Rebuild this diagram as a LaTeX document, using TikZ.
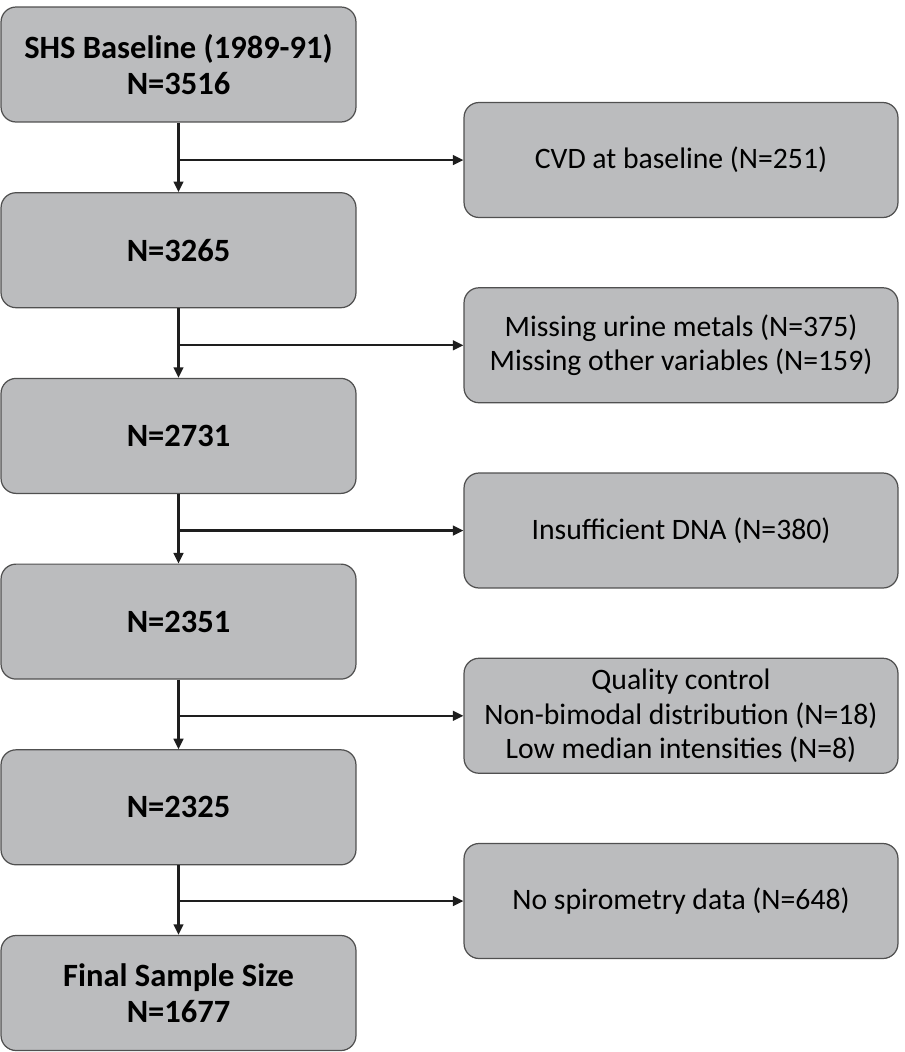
\documentclass[tikz,border=0pt]{standalone}
\usepackage{fontspec}
\setmainfont{Carlito}
\usetikzlibrary{positioning}
\usetikzlibrary{arrows.meta}
\usetikzlibrary{calc}

\definecolor{boxfill}{RGB}{187,188,190}
\definecolor{boxline}{RGB}{80,80,80}
\definecolor{arrowcol}{RGB}{30,30,30}

\tikzset{
  stagebox/.style={draw=boxline, line width=0.7pt, fill=boxfill, rounded corners=0.3cm,
    minimum width=7.1cm, minimum height=2.3cm, align=center,
    font=\fontsize{18.5}{20.5}\selectfont\bfseries},
  exclbox/.style={stagebox, minimum width=8.68cm, minimum height=2.3cm,
    font=\fontsize{16.9}{19.6}\selectfont},
  flowarrow/.style={-{Triangle[length=6pt,width=5.5pt]}, line width=1.3pt, arrowcol}
}

\begin{document}
\begin{tikzpicture}[x=0.02cm, y=-0.02cm]
  \useasboundingbox (0,0) rectangle (904,1052);
  \def\dy{185.7};
  \def\ry{185.25};

 %left column
  \foreach \i/\name/\txt in {0/s0/{SHS Baseline (1989-91)\\N=3516}, 1/s1/{N=3265}, 2/s2/{N=2731},
      3/s3/{N=2351}, 4/s4/{N=2325}, 5/s5/{Final Sample Size\\N=1677}} {
    \node[stagebox] (\name) at (178.5, 64.5 + \i*\dy) {\txt};
  }

 %right column
  \foreach \i/\name/\txt in {0/r0/{CVD at baseline (N=251)},
      1/r1/{Missing urine metals (N=375)\\Missing other variables (N=159)},
      2/r2/{Insufficient DNA (N=380)},
      3/r3/{Quality control\\Non-bimodal distribution (N=18)\\Low median intensities (N=8)},
      4/r4/{No spirometry data (N=648)}} {
    \node[exclbox] (\name) at (681, 160 + \i*\ry) {\txt};
  }

 %arrows down
  \foreach \a/\b in {s0/s1, s1/s2, s2/s3, s3/s4, s4/s5} {
    \draw[flowarrow] (\a) -- (\b);
  }

 %arrows right
  \foreach \a/\r in {s0/r0, s1/r1, s2/r2, s3/r3, s4/r4} {
    \coordinate (b\r) at (\a.south |- \r.west);
    \draw[flowarrow] (b\r) -- (\r.west);
  }
\end{tikzpicture}
\end{document}
